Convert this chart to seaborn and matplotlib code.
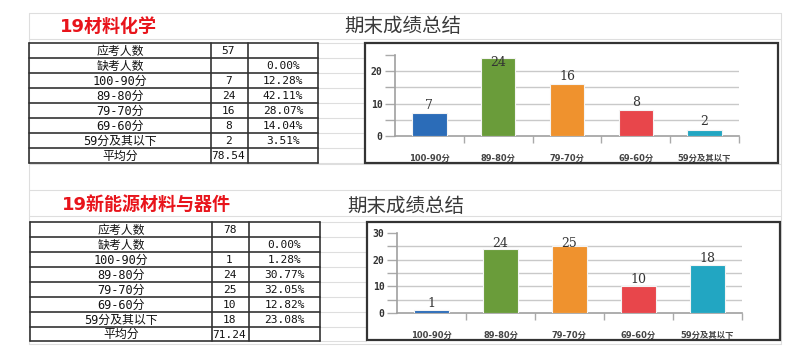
import matplotlib
matplotlib.use('Agg')
import matplotlib.pyplot as plt
import seaborn as sns
import pandas as pd
from matplotlib.patches import Rectangle

sns.set_theme(style='white')
plt.rcParams['font.family'] = ['DejaVu Sans', 'Noto Sans CJK SC']

W, H = 797, 349

# ---------------- data ----------------
categories = ['100-90分', '89-80分', '79-70分', '69-60分', '59分及其以下']
row_labels = ['应考人数', '缺考人数'] + categories + ['平均分']
colors = ['#2B6CB8', '#6A9C3A', '#EF922E', '#E8464B', '#22A6C2']
summary_title = '期末成绩总结'

class1_title = '19材料化学'
class1_total = 57
class1_absent = 0
class1_counts = [7, 24, 16, 8, 2]
class1_avg = 78.54

class2_title = '19新能源材料与器件'
class2_total = 78
class2_absent = 0
class2_counts = [1, 24, 25, 10, 18]
class2_avg = 71.24

# ---------------- figure ----------------
fig = plt.figure(figsize=(W / 100, H / 100), dpi=100)
fig.patch.set_facecolor('white')
bg = fig.add_axes([0, 0, 1, 1])
bg.set_xlim(0, W)
bg.set_ylim(H, 0)
bg.axis('off')

CJK = ['Noto Sans CJK SC']
MONO = ['DejaVu Sans Mono', 'Noto Sans CJK SC']
GRID = '#dedede'

# faint spreadsheet grid
for y in [13, 39, 164, 190, 216, 344]:
    bg.plot([29, 781], [y, y], color=GRID, lw=0.8, zorder=0)
for x in [29, 781]:
    bg.plot([x, x], [13, 344], color=GRID, lw=0.8, zorder=0)


def draw_table(xs, ys, total, absent, counts, avg):
    col1 = [str(total), ''] + [str(c) for c in counts] + [f'{avg:.2f}']
    col2 = ['', f'{absent / total * 100:.2f}%'] + \
           [f'{c / total * 100:.2f}%' for c in counts] + ['']
    for y in ys:
        bg.plot([xs[-1], 366], [y, y], color=GRID, lw=0.8, zorder=0)
    for y in ys:
        bg.plot([xs[0], xs[-1]], [y, y], color='#333333', lw=1.2, zorder=2)
    for x in xs:
        bg.plot([x, x], [ys[0], ys[-1]], color='#333333', lw=1.2, zorder=2)
    for i in range(len(row_labels)):
        yc = (ys[i] + ys[i + 1]) / 2 + 0.8
        bg.text((xs[0] + xs[1]) / 2, yc, row_labels[i], ha='center', va='center',
                fontsize=8.6, family=MONO, color='#111111')
        bg.text((xs[1] + xs[2]) / 2 - 1, yc, col1[i], ha='center', va='center',
                fontsize=8, family=MONO, color='#111111')
        bg.text((xs[2] + xs[3]) / 2, yc, col2[i], ha='center', va='center',
                fontsize=8, family=MONO, color='#111111')


def draw_chart(box, rect, counts, ymax, clip):
    bx0, by0, bx1, by1 = box
    bg.add_patch(Rectangle((bx0, by0), bx1 - bx0, by1 - by0, fc='white',
                           ec='#333333', lw=1.6, zorder=3))
    l, t, r, b = rect
    ax = fig.add_axes([l / W, 1 - b / H, (r - l) / W, (b - t) / H])
    ax.patch.set_alpha(0)
    df = pd.DataFrame({'cat': categories, 'n': counts})
    sns.barplot(data=df, x='cat', y='n', hue='cat', palette=colors, legend=False,
                width=0.5, saturation=1, edgecolor='#f4f4f4', linewidth=0.8,
                ax=ax, zorder=3)
    ax.set_xlim(-0.5, 4.5)
    ax.set_ylim(0, ymax)
    for v in range(5, ymax, 5):
        ax.axhline(v, color='#c9c9c9', lw=1.0, zorder=1)
    ax.set_yticks(list(range(0, ymax + 1, 10)))
    ax.set_yticks(list(range(5, ymax + 1, 10)), minor=True)
    ax.set_yticklabels([str(v) for v in range(0, ymax + 1, 10)],
                       family='DejaVu Sans Mono', fontsize=7, weight='bold',
                       color='#333333')
    ax.tick_params(axis='y', which='both', direction='out', length=7, width=1,
                   color='#aaaaaa', left=True, pad=2)
    ax.set_xticks([0.5, 1.5, 2.5, 3.5, 4.5])
    ax.set_xticklabels([])
    ax.set_xticks(range(len(categories)), minor=True)
    ax.set_xticklabels(categories, minor=True, fontsize=6, weight='bold',
                       color='#444444')
    ax.tick_params(axis='x', which='major', direction='out', length=5, width=1,
                   color='#aaaaaa', bottom=True)
    ax.tick_params(axis='x', which='minor', length=0, pad=13)
    ax.set_xlabel('')
    ax.set_ylabel('')
    for s in ['top', 'right']:
        ax.spines[s].set_visible(False)
    for s in ['left', 'bottom']:
        ax.spines[s].set_color('#a0a0a0')
        ax.spines[s].set_linewidth(1.2)
    for i, v in enumerate(counts):
        ax.text(i, min(v + 2.4, ymax - clip), str(v), ha='center', va='center',
                family='DejaVu Serif', fontsize=9, color='#333333', zorder=5)
    return ax


# ---------- section 1 ----------
bg.text(60, 27, class1_title, color='#E8141B', fontsize=13, weight='bold',
        ha='left', va='center', family=['DejaVu Sans', 'Noto Sans CJK SC'])
bg.text(344, 27, summary_title, color='#3a3a3a', fontsize=14, ha='left',
        va='center', family=CJK)
draw_table([29, 211, 248, 318], [43, 58, 73, 88, 103, 118, 133, 148, 163],
           class1_total, class1_absent, class1_counts, class1_avg)
draw_chart((365, 43, 778, 163), (395, 55, 739, 136), class1_counts, 25, 2.2)

# ---------- section 2 ----------
bg.text(62, 205, class2_title, color='#E8141B', fontsize=13, weight='bold',
        ha='left', va='center', family=['DejaVu Sans', 'Noto Sans CJK SC'])
bg.text(347, 206, summary_title, color='#3a3a3a', fontsize=14, ha='left',
        va='center', family=CJK)
draw_table([30, 212, 249, 320], [222, 237, 252, 267, 282, 297, 312, 327, 341],
           class2_total, class2_absent, class2_counts, class2_avg)
draw_chart((367, 222, 780, 340), (397, 233, 742, 313), class2_counts, 30, 4.0)

fig.savefig('out.png', dpi=100, facecolor='white')
